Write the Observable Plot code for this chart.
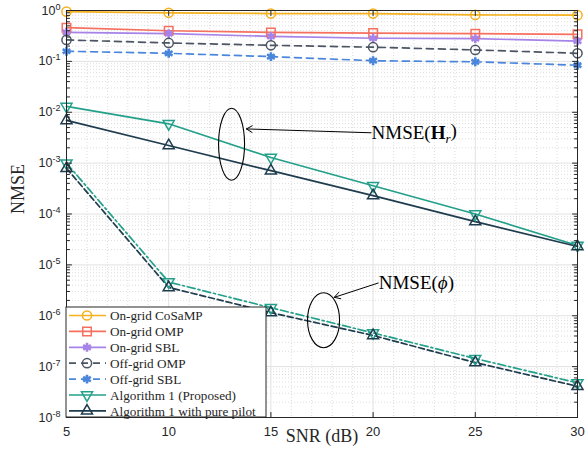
<!DOCTYPE html>
<html><head><meta charset="utf-8">
<script src="https://cdn.jsdelivr.net/npm/d3@7"></script>
<script src="https://cdn.jsdelivr.net/npm/@observablehq/plot@0.6"></script>
<style>body{margin:0;background:#fff} #c{width:587px;height:461px}</style>
</head><body><div id="c"></div>
<script>
// ---- data ----
const snr = [5, 10, 15, 20, 25, 30];
const onGridCoSaMP = [0.95, 0.90, 0.87, 0.87, 0.82, 0.81];
const onGridOMP    = [0.46, 0.40, 0.37, 0.36, 0.35, 0.34];
const onGridSBL    = [0.37, 0.35, 0.31, 0.285, 0.28, 0.25];
const offGridOMP   = [0.264, 0.23, 0.207, 0.19, 0.168, 0.144];
const offGridSBL   = [0.158, 0.144, 0.124, 0.103, 0.098, 0.084];
const alg1H        = [0.0130, 0.00593, 0.00129, 3.6e-4, 1.0e-4, 2.4e-5];
const alg1PureH    = [0.0069, 0.00222, 7.1e-4, 2.3e-4, 7.1e-5, 2.3e-5];
const alg1Phi      = [1.0e-3, 4.6e-6, 1.44e-6, 4.6e-7, 1.44e-7, 4.8e-8];
const alg1PurePhi  = [7.9e-4, 3.6e-6, 1.15e-6, 4.1e-7, 1.2e-7, 4.1e-8];
const legendLabels = ["On-grid CoSaMP", "On-grid OMP", "On-grid SBL", "Off-grid OMP", "Off-grid SBL", "Algorithm 1 (Proposed)", "Algorithm 1 with pure pilot"];
const xTicks = [5, 10, 15, 20, 25, 30];
const yTicks = [1, 1e-1, 1e-2, 1e-3, 1e-4, 1e-5, 1e-6, 1e-7, 1e-8];
// annotations (data coordinates)
const annoHText = {x: 19.95, y: 3.95e-3};
const annoHArrow = {x1: 19.9, y1: 3.95e-3, x2: 13.8, y2: 4.7e-3};
const annoHEllipse = {x: 13.1, y: 2.3e-3};
const annoPhiText = {x: 20.3, y: 4.4e-6};
const annoPhiArrow = {x1: 20.25, y1: 4.4e-6, x2: 18.1, y2: 2.3e-6};
const annoPhiEllipse = {x: 17.6, y: 8.0e-7};

// ---- styles ----
const triangleDown = {draw(ctx, size) {
  const s3 = Math.sqrt(3), y = -Math.sqrt(size / (s3 * 3));
  ctx.moveTo(0, -y * 2); ctx.lineTo(-s3 * y, y); ctx.lineTo(s3 * y, y); ctx.closePath();
}};
const series = [
  {values: onGridCoSaMP, color: "#F4B120", dash: null, symbol: "circle", r: 4.6, fill: "none", sw: 1.5},
  {values: onGridOMP, color: "#F5705F", dash: null, symbol: "square", r: 4.8, fill: "none", sw: 1.5},
  {values: onGridSBL, color: "#A683E8", dash: null, symbol: "asterisk", r: 4.2, fill: "#A683E8", sw: 2.6},
  {values: offGridOMP, color: "#4B5563", dash: "7,5", symbol: "circle", r: 4.6, fill: "none", sw: 1.5},
  {values: offGridSBL, color: "#4A86DC", dash: "7,5", symbol: "asterisk", r: 4.2, fill: "#4A86DC", sw: 2.6},
  {values: alg1H, color: "#23A08A", dash: null, symbol: triangleDown, r: 4.1, fill: "none", sw: 1.5},
  {values: alg1PureH, color: "#1F3C4E", dash: null, symbol: "triangle", r: 4.1, fill: "none", sw: 1.5}
];
const extra = [
  {values: alg1Phi, color: "#23A08A", dash: "8,3,2,3", symbol: triangleDown, r: 4.1, fill: "none", sw: 1.5},
  {values: alg1PurePhi, color: "#1F3C4E", dash: "6,3", symbol: "triangle", r: 4.1, fill: "none", sw: 1.5}
];
const all = [...series, ...extra];

const minorY = [];
for (let e = -8; e < 0; e++) for (let k = 2; k <= 9; k++) minorY.push(k * Math.pow(10, e));
const minorX = d3.range(5, 31).filter(v => v % 5 !== 0);

const lineShape = {draw(c, l) { c.moveTo(0, 0); c.lineTo(0, -l); }};
const tickMarks = (data, opts, len) => Plot.vector(data, {...opts, length: len, anchor: "start", shape: lineShape, stroke: "#262626", strokeWidth: 1});

const marks = [
  Plot.ruleY(minorY, {stroke: "#d4d4d4", strokeDasharray: "1,2", strokeWidth: 0.8}),
  Plot.ruleX(minorX, {stroke: "#d4d4d4", strokeDasharray: "1,2", strokeWidth: 0.8}),
  Plot.ruleY(yTicks, {stroke: "#e2e2e2", strokeWidth: 1}),
  Plot.ruleX(xTicks, {stroke: "#e2e2e2", strokeWidth: 1}),
];
all.forEach(s => {
  const data = snr.map((x, i) => ({x, y: s.values[i]}));
  marks.push(Plot.line(data, {x: "x", y: "y", stroke: s.color, strokeWidth: 1.7, strokeDasharray: s.dash}));
});
all.forEach(s => {
  const data = snr.map((x, i) => ({x, y: s.values[i]}));
  marks.push(Plot.dot(data, {x: "x", y: "y", symbol: s.symbol, r: s.r, stroke: s.color, fill: s.fill, strokeWidth: s.sw}));
});
marks.push(
  Plot.frame({stroke: "#262626", strokeWidth: 1}),
  tickMarks(xTicks, {x: d => d, y: 1e-8, rotate: 0}, 5),
  tickMarks(xTicks, {x: d => d, y: 1, rotate: 180}, 5),
  tickMarks(yTicks, {x: 5, y: d => d, rotate: 90}, 5),
  tickMarks(yTicks, {x: 30, y: d => d, rotate: -90}, 5),
  tickMarks(minorY, {x: 5, y: d => d, rotate: 90}, 3),
  tickMarks(minorY, {x: 30, y: d => d, rotate: -90}, 3),
  Plot.axisX({ticks: xTicks, tickSize: 0, tickPadding: 9, label: null, fontSize: 13, fill: "#262626"}),
  Plot.axisY({ticks: yTicks, tickSize: 0, tickPadding: 6, label: null, fontSize: 12.5, fill: "#262626",
              tickFormat: d => "10^" + Math.round(Math.log10(d))}),
  Plot.text(["SNR (dB)"], {frameAnchor: "bottom", dy: 24, fontFamily: "Liberation Serif", fontSize: 18, fill: "#262626"}),
  Plot.text(["NMSE"], {frameAnchor: "left", dx: -48, rotate: -90, fontFamily: "Liberation Serif", fontSize: 18, fill: "#262626"}),
  Plot.arrow([annoHArrow, annoPhiArrow], {x1: "x1", y1: "y1", x2: "x2", y2: "y2", stroke: "black", strokeWidth: 1, headLength: 10, bend: 0}),
);

const chart = Plot.plot({
  width: 587, height: 461, marginLeft: 66, marginRight: 10, marginTop: 10, marginBottom: 44,
  x: {domain: [5, 30]}, y: {type: "log", domain: [1e-8, 1]},
  style: {fontFamily: "Liberation Sans", fontSize: "12.5px", color: "#262626", background: "white"},
  marks
});
document.getElementById("c").appendChild(chart);

const svg = d3.select(chart);
// superscript tick labels
svg.selectAll('g[aria-label="y-axis tick label"] text').each(function() {
  const t = this.textContent.split("^");
  const el = d3.select(this); el.text(null);
  el.append("tspan").text(t[0]);
  el.append("tspan").attr("dy", "-0.55em").attr("font-size", "0.72em").text(t[1]);
});

const X = chart.scale("x"), Y = chart.scale("y");
// ellipses
[[annoHEllipse, 13, 36], [annoPhiEllipse, 16, 27.5]].forEach(([e, rx, ry]) => {
  svg.append("ellipse").attr("cx", X.apply(e.x)).attr("cy", Y.apply(e.y)).attr("rx", rx).attr("ry", ry)
    .attr("fill", "none").attr("stroke", "black").attr("stroke-width", 1.1);
});
// annotation texts
const serif = "Liberation Serif";
const tH = svg.append("text").attr("x", X.apply(annoHText.x)).attr("y", Y.apply(annoHText.y)).attr("dy", "0.35em")
  .attr("text-anchor", "start").attr("font-family", serif).attr("font-size", 19).attr("fill", "black");
tH.append("tspan").text("NMSE(");
tH.append("tspan").attr("font-weight", "bold").text("H");
tH.append("tspan").attr("font-style", "italic").attr("font-size", 13).attr("dy", "0.3em").text("r");
tH.append("tspan").attr("dy", "-0.3em").text(")");
const tP = svg.append("text").attr("x", X.apply(annoPhiText.x)).attr("y", Y.apply(annoPhiText.y)).attr("dy", "0.35em")
  .attr("text-anchor", "start").attr("font-family", serif).attr("font-size", 19).attr("fill", "black");
tP.append("tspan").text("NMSE(");
tP.append("tspan").attr("font-style", "italic").text("ϕ");
tP.append("tspan").text(")");

// legend
const lx = 66, ly = 307, lw = 200, lh = 110, rowH = 15.9;
const L = svg.append("g").attr("text-anchor", "start");
L.append("rect").attr("x", lx).attr("y", ly).attr("width", lw).attr("height", lh)
  .attr("fill", "white").attr("stroke", "#262626").attr("stroke-width", 1);
series.forEach((s, i) => {
  const yy = ly + 8.5 + i * rowH;
  L.append("line").attr("x1", lx + 3).attr("x2", lx + 40).attr("y1", yy).attr("y2", yy)
    .attr("stroke", s.color).attr("stroke-width", 1.7).attr("stroke-dasharray", s.dash);
  const typ = typeof s.symbol === "string" ? {circle: d3.symbolCircle, square: d3.symbolSquare, asterisk: d3.symbolAsterisk, triangle: d3.symbolTriangle}[s.symbol] : s.symbol;
  L.append("path").attr("transform", `translate(${lx + 21},${yy})`)
    .attr("d", d3.symbol(typ, Math.PI * s.r * s.r)())
    .attr("fill", s.fill).attr("stroke", s.color).attr("stroke-width", s.sw);
  L.append("text").attr("x", lx + 44).attr("y", yy).attr("dy", "0.35em").attr("text-anchor", "start")
    .attr("font-family", serif).attr("font-size", 13.2).attr("fill", "#262626").text(legendLabels[i]);
});
</script></body></html>
